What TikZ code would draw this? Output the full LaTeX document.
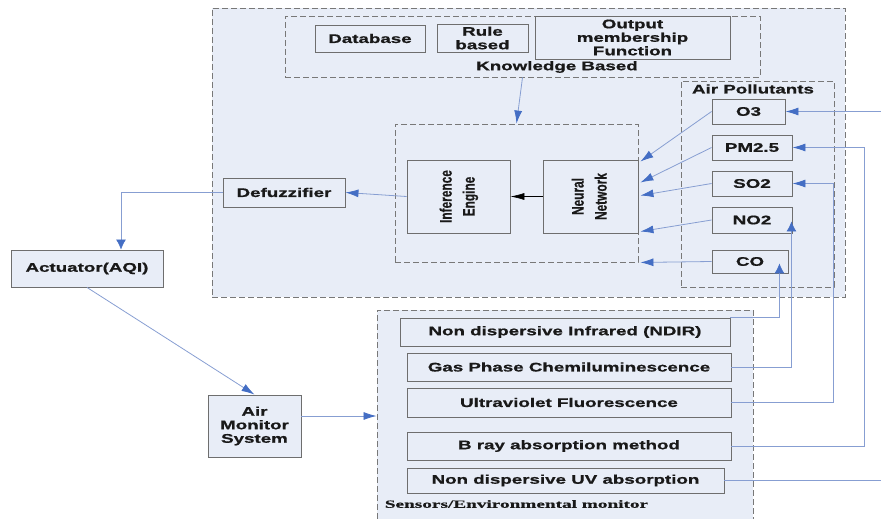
\documentclass[tikz,border=0pt]{standalone}
\usepackage{fontspec}
\setmainfont{Liberation Sans}
\newfontfamily\widebold[FakeStretch=1.5,FakeBold=0.8]{Liberation Sans}
\newfontfamily\narrowbold[FakeStretch=0.72,FakeBold=0.6]{Liberation Sans}
\newfontfamily\serifwide[FakeStretch=1.75,FakeBold=0.6]{Liberation Serif}
\usetikzlibrary{arrows.meta,calc}
\definecolor{bgfill}{RGB}{232,237,247}
\definecolor{edge}{RGB}{110,110,110}
\definecolor{dashcol}{RGB}{120,120,120}
\definecolor{lineblue}{RGB}{135,158,210}
\definecolor{tipblue}{RGB}{68,110,196}
\newcommand\vtext[1]{\rotatebox{90}{\narrowbold\bfseries\fontsize{16.5}{23}\selectfont\begin{tabular}{@{}c@{}}#1\end{tabular}}}
\begin{document}
\begin{tikzpicture}[x=1pt,y=-1pt,
  dbox/.style={draw=dashcol, dash pattern=on 6pt off 3pt, line width=0.9pt, fill=bgfill, inner sep=0pt},
  box/.style={draw=edge, line width=0.9pt, fill=bgfill, inner sep=0pt, text=black!90,
    font=\widebold\bfseries\fontsize{12.5}{13.5}\selectfont, align=center},
  lbl/.style={inner sep=0pt, text=black!90, font=\widebold\bfseries\fontsize{12.5}{13.5}\selectfont},
  arr/.style={draw=lineblue, line width=0.8pt, -{Latex[length=13pt,width=8pt,color=tipblue]}},
  varr/.style={draw=lineblue, line width=0.8pt, -{Latex[length=10pt,width=10pt,color=tipblue]}},
  wire/.style={draw=lineblue, line width=0.8pt}]
\useasboundingbox (0,0) rectangle (881,519);

% dashed containers
\node[dbox, minimum width=633, minimum height=289] (fis) at (528.5,152.5) {};
\node[dbox, minimum width=376, minimum height=215] (sens) at (565,417.5) {};
\node[dbox, minimum width=475, minimum height=61] (kb) at (522.5,46.5) {};
\node[dbox, minimum width=243, minimum height=138] (inf) at (516.5,193) {};
\node[dbox, minimum width=153, minimum height=206] (ap) at (757.5,184) {};

% labels
\node[lbl] (kblabel) at (557,67) {Knowledge Based};
\node[lbl] (aplabel) at (753,89) {Air Pollutants};
\node[inner sep=0pt, text=black!90, font=\serifwide\bfseries\fontsize{11}{12}\selectfont] (senslabel) at (516.5,504) {Sensors/Environmental monitor};

% knowledge base
\node[box, minimum width=110, minimum height=27] (db) at (370,38.5) {Database};
\node[box, minimum width=91, minimum height=28] (rb) at (482.5,38) {Rule\\based};
\node[box, minimum width=195, minimum height=43] (omf) at (632.5,37.5) {Output\\membership\\Function};

% inference
\node[box, minimum width=103, minimum height=73] (ie) at (458.5,196.5) {\vtext{Inference\\Engine}};
\node[box, minimum width=95, minimum height=73] (nn) at (590.5,196.5) {\vtext{Neural\\Network}};

% left side
\node[box, minimum width=122, minimum height=29] (defz) at (284,192.5) {Defuzzifier};
\node[box, minimum width=152, minimum height=37] (act) at (87,268.5) {Actuator(AQI)};
\node[box, minimum width=93, minimum height=62] (ams) at (254.5,426) {Air\\Monitor\\System};

% sensors
\node[box, minimum width=330, minimum height=28] (ndir) at (565,332) {Non dispersive Infrared (NDIR)};
\node[box, minimum width=324, minimum height=28] (gpc) at (569,367) {Gas Phase Chemiluminescence};
\node[box, minimum width=324, minimum height=29] (uvf) at (569,402.5) {Ultraviolet Fluorescence};
\node[box, minimum width=324, minimum height=28] (bray) at (569,446) {B ray absorption method};
\node[box, minimum width=317, minimum height=25] (nduv) at (565.5,480.5) {Non dispersive UV absorption};

% pollutants
\node[box, minimum width=73, minimum height=25] (o3) at (748.5,111.5) {O3};
\node[box, minimum width=80, minimum height=25] (pm) at (752,147.5) {PM2.5};
\node[box, minimum width=80, minimum height=25] (so2) at (752,183.5) {SO2};
\node[box, minimum width=80, minimum height=26] (no2) at (752,220) {NO2};
\node[box, minimum width=76, minimum height=23] (co) at (750,261.5) {CO};

% connectors
\draw[arr] (kb.south) -- (inf.north);
\draw[black, line width=0.6pt, -{Latex[length=14pt,width=7pt]}] (nn.west) -- (ie.east);
\draw[arr] (ie.west) -- (defz.east);
\draw[varr] (defz.west) -| ($(act.north)+(34,0)$);
\draw[arr] (act.south) -- (ams.north);
\draw[arr] ($(ams.east)+(0,-10)$) -- ($(ams.east -| sens.west)+(0,-10)$);

\draw[arr] (o3.west) -- ($(nn.east)+(2,-35)$);
\draw[arr] (pm.west) -- ($(nn.east)+(2,-14)$);
\draw[arr] (so2.west) -- ($(nn.east)+(2,-1)$);
\draw[arr] (no2.west) -- ($(nn.east)+(2,35)$);
\draw[arr] (co.west) -- ($(inf.south east)+(2,0)$);

\coordinate (o3src) at (881,111.5);
\draw[arr] (o3src) -- (o3.east);
\draw[arr] (bray.east) -- ++(133,0) |- (pm.east);
\draw[arr] (uvf.east) -- ++(102,0) |- (so2.east);
\draw[varr] (gpc.east) -| ($(no2.south east)+(-1,-12)$);
\draw[varr] (ndir.north east) -| ($(co.south east)+(-9,-10)$);
\coordinate (uvout) at (881,480.5);
\draw[wire] (nduv.east) -- (uvout);
\end{tikzpicture}
\end{document}
